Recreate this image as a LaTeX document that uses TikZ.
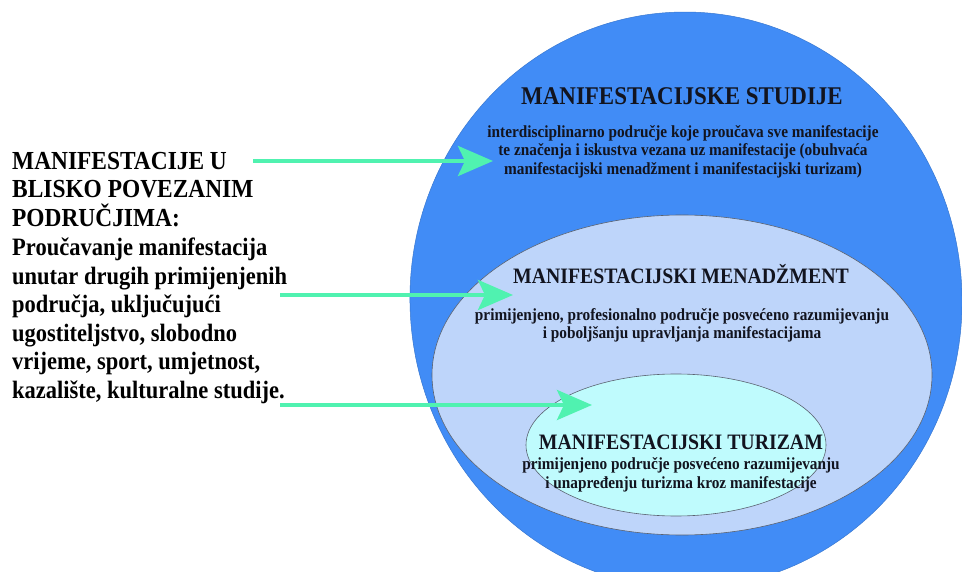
\documentclass[tikz,border=0pt]{standalone}
\usepackage{fontspec}
\setmainfont{Liberation Serif}[FakeStretch=0.9]
\usetikzlibrary{arrows.meta}
\definecolor{outerblue}{HTML}{418CF6}
\definecolor{midblue}{HTML}{BED5FA}
\definecolor{innercyan}{HTML}{BFFBFD}
\definecolor{arrowgreen}{HTML}{50F2B0}
\definecolor{edgegrey}{HTML}{5A6270}
\definecolor{inktext}{HTML}{12141F}
\tikzset{
  greenarrow/.style={draw=arrowgreen, line width=4pt,
    -{Stealth[length=35pt, width=30pt, inset=7pt]}},
  titletext/.style={font=\bfseries\fontsize{22}{25}\selectfont, text=inktext, inner sep=0pt},
  desctext/.style={font=\bfseries\fontsize{17}{18.6}\selectfont, text=inktext, align=center, inner sep=0pt},
  lefttext/.style={anchor=north west, inner sep=0pt, align=left, text=black},
}
\begin{document}
\begin{tikzpicture}[x=1pt, y=-1pt]
\useasboundingbox (0,0) rectangle (962,572);
\fill[white] (0,0) rectangle (962,572);
\begin{scope}
\clip (0,0) rectangle (962,572);
% ellipses
\draw[fill=outerblue, draw=outerblue!85!black, line width=0.5pt] (686,300) ellipse [x radius=276, y radius=288, rotate=3];
\draw[fill=midblue, draw=edgegrey, line width=0.6pt] (682,375) ellipse [x radius=250, y radius=160];
\draw[fill=innercyan, draw=edgegrey, line width=0.6pt] (676,445) ellipse [x radius=150, y radius=71];
\end{scope}

% texts in circles
\node[titletext, font=\bfseries\fontsize{25.5}{27}\selectfont] (stT) at (682,96) {MANIFESTACIJSKE STUDIJE};
\node[desctext] (stD) at (683,151.5) {interdisciplinarno područje koje proučava sve manifestacije\\te značenja i iskustva vezana uz manifestacije (obuhvaća\\manifestacijski menadžment i manifestacijski turizam)};
\node[titletext] (mnT) at (681,274) {MANIFESTACIJSKI MENADŽMENT};
\node[desctext] (mnD) at (682,325.5) {primijenjeno, profesionalno područje posvećeno razumijevanju\\i poboljšanju upravljanja manifestacijama};
\node[titletext] (tuT) at (681,442) {MANIFESTACIJSKI TURIZAM};
\node[desctext] (tuD) at (681,475) {primijenjeno područje posvećeno razumijevanju\\i unapređenju turizma kroz manifestacije};

% left texts
\node[lefttext, font=\bfseries\fontsize{26}{28.4}\selectfont] (head) at (12,152)
  {MANIFESTACIJE U\\BLISKO POVEZANIM\\PODRUČJIMA:};
\node[lefttext, font=\bfseries\fontsize{25}{28.5}\selectfont] (body) at (12,238)
  {Proučavanje manifestacija\\unutar drugih primijenjenih\\područja, uključujući\\ugostiteljstvo, slobodno\\vrijeme, sport, umjetnost,\\kazalište, kulturalne studije.};

% arrows
\coordinate (a1s) at (253,161);
\coordinate (a1e) at (493,161);
\coordinate (a2s) at (280,295);
\coordinate (a2e) at (513,295);
\coordinate (a3s) at (280,405);
\coordinate (a3e) at (592,405);
\draw[greenarrow] (a1s) -- (a1e);
\draw[greenarrow] (a2s) -- (a2e);
\draw[greenarrow] (a3s) -- (a3e);
\end{tikzpicture}
\end{document}
